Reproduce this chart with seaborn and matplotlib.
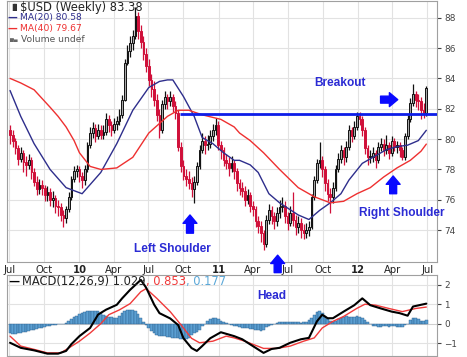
import pandas as pd
import numpy as np
import matplotlib.pyplot as plt
import seaborn as sns

# weekly bars, first week 2009-07-03
first_date = '2009-07-03'
first_open = 80.6
closes = [80.3, 79.9, 79.4, 78.7, 79.1, 78.5, 78.3, 78.6, 77.8, 77.2,
          76.7, 77.0, 76.8, 76.3, 76.5, 76.0, 76.1, 75.6, 75.5, 75.0,
          74.8, 75.4, 76.2, 77.4, 77.9, 78.0, 77.6, 77.3, 78.0, 79.6,
          80.4, 80.7, 80.2, 80.6, 80.3, 80.5, 81.3, 80.9, 80.6, 81.0,
          81.2, 81.6, 82.6, 85.0, 85.8, 86.3, 86.8, 88.1, 87.1, 86.4,
          85.6, 84.8, 83.9, 83.3, 82.6, 81.6, 80.6, 82.3, 82.8, 82.5,
          82.8, 82.2, 81.7, 79.5, 78.2, 77.6, 77.4, 77.1, 76.7, 77.2,
          78.2, 79.3, 79.9, 79.6, 79.7, 80.2, 80.6, 80.9, 79.6, 79.3,
          78.6, 78.4, 78.1, 78.4, 77.9, 77.1, 76.8, 76.6, 76.0, 76.3,
          75.6, 75.4, 74.6, 74.3, 73.8, 73.1, 74.7, 75.3, 74.9, 74.6,
          75.1, 75.5, 75.6, 74.9, 74.5, 75.1, 74.7, 74.2, 74.5, 74.0,
          73.8, 74.0, 74.2, 76.2, 77.3, 78.4, 78.6, 78.0, 77.1, 76.4,
          76.2, 76.8, 78.0, 78.7, 79.3, 78.8, 79.5, 80.6, 80.2, 80.8,
          81.5, 81.3, 80.6, 79.4, 78.8, 78.8, 79.1, 78.6, 79.5, 79.7,
          79.3, 79.6, 79.1, 79.9, 79.5, 79.6, 79.3, 78.8, 80.2, 81.3,
          82.4, 83.0, 82.6, 82.5, 81.9, 81.7, 83.38]
highs = [80.9, 80.6, 80.1, 79.6, 79.5, 79.3, 78.9, 79.0, 78.8, 78.1,
         77.6, 77.4, 77.3, 77.0, 76.9, 76.8, 76.6, 76.3, 76.0, 75.8,
         75.3, 75.6, 76.5, 77.6, 78.2, 78.3, 78.2, 77.8, 78.3, 79.8,
         80.8, 81.1, 81.0, 81.0, 80.9, 80.9, 81.7, 81.6, 81.2, 81.4,
         81.5, 82.0, 82.9, 85.3, 86.2, 86.8, 87.2, 88.7, 88.4, 87.5,
         86.8, 86.0, 85.3, 84.3, 83.8, 83.0, 82.0, 82.6, 83.2, 83.0,
         83.2, 83.0, 82.5, 81.9, 79.8, 78.6, 78.0, 77.9, 77.5, 77.6,
         78.5, 79.6, 80.4, 80.2, 80.3, 80.6, 81.0, 81.4, 81.2, 79.9,
         79.5, 79.0, 78.8, 78.9, 78.6, 78.1, 77.4, 77.2, 76.9, 76.7,
         76.5, 75.9, 75.6, 74.9, 74.6, 74.0, 75.0, 75.7, 75.6, 75.2,
         75.5, 76.0, 76.2, 75.9, 75.2, 75.6, 76.5, 75.0, 74.9, 74.8,
         74.4, 74.5, 74.6, 76.4, 77.6, 78.7, 79.8, 78.9, 78.2, 77.4,
         76.8, 77.2, 78.3, 79.1, 79.6, 79.5, 79.9, 80.9, 80.8, 81.2,
         81.8, 81.8, 81.5, 80.8, 79.6, 79.3, 79.5, 79.3, 79.8, 80.1,
         80.0, 80.3, 79.8, 80.2, 80.1, 79.9, 79.8, 79.5, 80.4, 81.6,
         82.7, 83.6, 83.2, 83.0, 82.8, 82.4, 83.5]
lows = [79.7, 79.5, 79.0, 78.3, 78.5, 77.8, 77.6, 78.0, 77.4, 76.9,
        76.3, 76.4, 76.3, 75.9, 75.9, 75.6, 75.5, 75.1, 74.9, 74.6,
        74.2, 74.5, 75.2, 76.0, 77.2, 77.5, 77.2, 76.8, 77.0, 77.8,
        79.4, 80.1, 79.8, 80.0, 80.0, 80.0, 80.3, 80.5, 80.2, 80.4,
        80.6, 80.9, 81.4, 82.5, 84.9, 85.4, 85.9, 86.6, 86.6, 86.0,
        85.2, 84.4, 83.5, 82.8, 82.2, 81.2, 80.1, 80.4, 82.0, 82.0,
        82.2, 81.8, 81.3, 79.2, 77.8, 77.3, 76.9, 76.7, 76.2, 75.8,
        77.0, 78.0, 79.1, 79.0, 79.3, 79.4, 79.9, 80.3, 79.3, 78.7,
        78.2, 78.0, 77.6, 77.8, 77.4, 76.6, 76.3, 76.2, 75.6, 75.7,
        75.2, 74.9, 74.2, 73.8, 73.2, 72.7, 72.9, 74.4, 74.4, 74.1,
        74.3, 74.8, 75.2, 74.5, 74.0, 74.3, 74.3, 73.7, 73.8, 73.5,
        73.4, 73.5, 73.6, 74.1, 76.0, 77.1, 78.1, 77.5, 76.6, 75.9,
        75.1, 75.8, 76.6, 77.8, 78.4, 78.3, 78.5, 79.3, 79.8, 80.0,
        80.6, 80.9, 80.2, 79.0, 78.3, 78.4, 78.5, 78.1, 78.4, 79.2,
        78.9, 79.0, 78.7, 78.9, 79.2, 79.1, 78.8, 78.6, 78.6, 80.0,
        81.1, 82.2, 82.1, 81.9, 81.3, 81.4, 81.5]

# moving averages (week number, value)
ma20_weeks = [0, 4, 9, 15, 21, 27, 34, 40, 46, 52, 56, 59, 61, 65, 69, 72, 76, 80, 84,
              86, 90, 93, 97, 101, 108, 112, 116, 120, 124, 127, 132, 136, 141, 145,
              149, 153, 156]
ma20_vals = [83.2, 81.5, 79.7, 78.0, 76.8, 76.4, 77.8, 79.7, 81.9, 83.4, 83.8, 83.9,
             83.9, 82.8, 81.5, 80.1, 79.7, 79.1, 78.6, 78.6, 78.3, 77.8, 76.4, 75.8,
             75.0, 74.7, 75.3, 75.8, 76.4, 77.3, 78.4, 78.8, 79.3, 79.5, 79.6, 79.9,
             80.58]
ma40_weeks = [0, 4, 9, 15, 18, 21, 24, 26, 30, 34, 40, 46, 52, 59, 63, 67, 72, 79, 84,
              86, 90, 95, 101, 108, 114, 120, 125, 130, 135, 140, 145, 150, 154, 156]
ma40_vals = [84.0, 83.7, 83.25, 82.1, 81.5, 80.8, 79.9, 79.1, 78.2, 78.0, 78.1, 78.8,
             80.4, 81.5, 81.9, 81.9, 81.6, 81.3, 80.8, 80.4, 79.9, 79.1, 78.0, 76.8,
             76.2, 75.8, 75.9, 76.4, 76.8, 77.5, 78.1, 78.6, 79.2, 79.67]

# MACD(12,26,9)
macd_weeks = [0, 4, 9, 14, 18, 21, 23, 26, 30, 33, 36, 40, 42, 45, 49, 51, 54, 56,
              60, 63, 65, 68, 70, 72, 75, 79, 82, 84, 87, 91, 95, 98, 101, 105, 109,
              112, 115, 117, 119, 121, 125, 129, 132, 135, 139, 143, 146, 149, 151,
              154, 156]
macd_vals = [-0.98, -1.24, -1.37, -1.54, -1.54, -1.4, -1.05, -0.64, -0.22, 0.47,
             0.72, 0.97, 1.3, 1.74, 2.25, 1.85, 0.98, 0.54, 0.27, -0.07, -0.75,
             -1.25, -1.4, -1.15, -0.75, -0.44, -0.56, -0.64, -0.8, -1.15, -1.5,
             -1.3, -1.24, -0.98, -0.8, -0.73, 0.12, 0.46, 0.28, 0.28, 0.62, 0.95,
             1.3, 0.95, 0.78, 0.62, 0.54, 0.41, 0.88, 0.97, 1.029]
signal_weeks = [0, 4, 9, 14, 19, 22, 26, 30, 34, 37, 41, 45, 49, 51, 55, 60, 64, 68,
                71, 76, 81, 84, 88, 95, 100, 105, 110, 114, 117, 121, 125, 130, 133,
                137, 142, 147, 152, 156]
signal_vals = [-0.64, -1.15, -1.32, -1.5, -1.5, -1.25, -0.9, -0.48, 0.0, 0.46, 0.71,
               1.03, 1.64, 1.8, 1.3, 0.62, -0.05, -0.75, -0.98, -0.9, -0.64, -0.73,
               -0.9, -1.27, -1.27, -1.15, -0.9, -0.73, -0.22, 0.12, 0.37, 0.79, 1.0,
               0.95, 0.78, 0.62, 0.78, 0.853]
hist_vals = [-0.5, -0.52, -0.52, -0.5, -0.47, -0.45, -0.42, -0.38, -0.35, -0.3,
             -0.27, -0.24, -0.2, -0.17, -0.14, -0.1, -0.07, -0.05, -0.03, -0.02,
             0.0, 0.05, 0.15, 0.25, 0.35, 0.42, 0.5, 0.55, 0.6, 0.63,
             0.63, 0.65, 0.66, 0.64, 0.55, 0.45, 0.38, 0.35, 0.32, 0.3,
             0.3, 0.4, 0.55, 0.63, 0.68, 0.72, 0.7, 0.65, 0.5, 0.3,
             0.1, -0.05, -0.2, -0.4, -0.5, -0.6, -0.62, -0.64, -0.65, -0.66,
             -0.68, -0.72, -0.74, -0.76, -0.78, -0.8, -0.78, -0.72, -0.6, -0.5,
             -0.45, -0.3, -0.1, 0.0, 0.15, 0.22, 0.29, 0.27, 0.22, 0.15,
             0.08, 0.03, 0.0, -0.05, -0.1, -0.14, -0.18, -0.2, -0.22, -0.24,
             -0.26, -0.28, -0.3, -0.33, -0.38, -0.3, -0.18, -0.1, -0.05, 0.0,
             0.05, 0.08, 0.1, 0.1, 0.1, 0.08, 0.07, 0.08, 0.07, 0.06,
             0.07, 0.1, 0.18, 0.3, 0.45, 0.6, 0.65, 0.55, 0.4, 0.22,
             0.12, 0.1, 0.15, 0.25, 0.3, 0.35, 0.37, 0.35, 0.33, 0.36,
             0.38, 0.35, 0.3, 0.2, 0.08, -0.02, -0.1, -0.13, -0.15, -0.15,
             -0.14, -0.13, -0.15, -0.14, -0.12, -0.15, -0.18, -0.15, -0.08, 0.0,
             0.2, 0.28, 0.3, 0.22, 0.16, 0.15, 0.177]

tick_labels = ['Jul', 'Oct', '10', 'Apr', 'Jul', 'Oct', '11', 'Apr', 'Jul', 'Oct', '12', 'Apr', 'Jul']
neckline = 81.65
neck_start = '2010-09-22'

sns.set_style('white')
plt.rcParams['font.family'] = ['DejaVu Sans']

dates = pd.date_range(first_date, periods=len(closes), freq='7D')
df = pd.DataFrame({'date': dates, 'close': closes, 'high': highs, 'low': lows})
df['open'] = df['close'].shift(1).fillna(first_open)
df['up'] = df['close'] >= df['open']
body_low = df[['open', 'close']].min(axis=1)
body_h = (df['close'] - df['open']).abs().clip(lower=0.07)
edge = np.where(df['up'], '#111111', '#d0103a')
face = np.where(df['up'], '#a8a8a8', '#d0103a')

W, H = 467, 357
fig = plt.figure(figsize=(W / 100, H / 100), dpi=100)
ax = fig.add_axes([7 / W, 1 - 262 / H, 430 / W, 261 / H])
ax2 = fig.add_axes([7 / W, 1 / H, 430 / W, 81 / H])

x_left, x_right = pd.Timestamp('2009-06-25'), pd.Timestamp('2012-07-27')
qticks = pd.date_range('2009-07-01', '2012-07-01', freq='QS')

# --- price panel ---
ax.vlines(df['date'], df['low'], df['high'], colors=edge, lw=0.9, zorder=3)
ax.bar(df['date'], body_h, bottom=body_low, width=4.6, color=face,
       edgecolor=edge, lw=0.7, zorder=4)
sns.lineplot(x=dates[ma20_weeks], y=ma20_vals, ax=ax, color='#2e2e8c', lw=1.0, zorder=5)
sns.lineplot(x=dates[ma40_weeks], y=ma40_vals, ax=ax, color='#ee3030', lw=1.0, zorder=5)
ax.hlines(neckline, pd.Timestamp(neck_start), x_right, color='#0d1de8', lw=2, zorder=6)

ax.set_xlim(x_left, x_right)
ax.set_ylim(71.9, 89.1)
ax.set_yticks(range(74, 89, 2))
ax.yaxis.tick_right()
ax.set_xticks(qticks)
ax.set_xticklabels(tick_labels)
for lab in ax.get_xticklabels():
    if lab.get_text().isdigit():
        lab.set_fontweight('bold')
ax.tick_params(axis='x', labelsize=7.2, length=0, pad=2.5, colors='#222222')
ax.tick_params(axis='y', labelsize=6.4, length=3, pad=2, colors='#444444')
ax.grid(True, color='#e2e2e2', lw=0.8)
ax.set_xlabel('')
ax.set_ylabel('')

# --- MACD panel ---
ax2.axhline(0, color='#cccccc', lw=0.6)
ax2.bar(dates, hist_vals, width=7, color='#5b9fd2', edgecolor='#2a5d8c', lw=0.3, zorder=3)
sns.lineplot(x=dates[signal_weeks], y=signal_vals, ax=ax2, color='#f03a3a', lw=1.0, zorder=4)
sns.lineplot(x=dates[macd_weeks], y=macd_vals, ax=ax2, color='black', lw=1.5, zorder=5)
ax2.set_xlim(x_left, x_right)
ax2.set_ylim(-1.66, 2.5)
ax2.set_yticks([-1, 0, 1, 2])
ax2.yaxis.tick_right()
ax2.set_xticks(qticks)
ax2.set_xticklabels([])
ax2.tick_params(axis='x', length=0)
ax2.tick_params(axis='y', labelsize=6.4, length=3, pad=2, colors='#444444')
ax2.grid(True, color='#e2e2e2', lw=0.8)
ax2.set_xlabel('')
ax2.set_ylabel('')

for a in (ax, ax2):
    for s in a.spines.values():
        s.set_color('#a0a0a0')
        s.set_linewidth(0.8)

# --- header texts ---
def fx(px):
    return px / W

def fy(py):
    return 1 - py / H

fig.text(fx(9), fy(7), '▐▌', fontsize=5, color='#333333', va='center')
fig.text(fx(20), fy(7), '$USD (Weekly) 83.38', fontsize=8.3, color='#222222', va='center')
fig.text(fx(7), fy(17.5), '—', fontsize=7, color='#2e2e8c', va='center', fontweight='bold')
fig.text(fx(20), fy(17.5), 'MA(20) 80.58', fontsize=6.6, color='#2e2e8c', va='center')
fig.text(fx(7), fy(29), '—', fontsize=7, color='#ee3030', va='center', fontweight='bold')
fig.text(fx(20), fy(29), 'MA(40) 79.67', fontsize=6.6, color='#ee3030', va='center')
fig.text(fx(10), fy(40), '▆▄', fontsize=3.5, color='#666666', va='center')
fig.text(fx(21), fy(40), 'Volume undef', fontsize=6.6, color='#555555', va='center')

fig.text(fx(8), fy(281.5), '—', fontsize=8, color='black', va='center', fontweight='bold')
t1 = fig.text(fx(22), fy(281.5), 'MACD(12,26,9) 1.029', fontsize=8.3, color='#222222', va='center')
t2 = ax2.annotate(', 0.853', xy=(1, 0), xycoords=t1, va='bottom', fontsize=8.3, color='#f03a3a')
ax2.annotate(', 0.177', xy=(1, 0), xycoords=t2, va='bottom', fontsize=8.3, color='#5ba8d8')

# --- pattern annotations ---
lab_font = dict(family=['Liberation Sans', 'DejaVu Sans'], fontsize=8.6,
                fontweight='bold', color='#2b2bd4', ha='center', va='center')
ax.text(pd.Timestamp('2011-11-16'), 83.7, 'Breakout', zorder=7, **lab_font)
ax.text(pd.Timestamp('2010-09-01'), 72.75, 'Left Shoulder', zorder=7, **lab_font)
ax.text(pd.Timestamp('2012-04-26'), 75.13, 'Right Shoulder', zorder=7, **lab_font)
ax2.text(pd.Timestamp('2011-05-21'), 1.44, 'Head', zorder=7, **lab_font)

arrow = dict(arrowstyle='simple,head_length=0.6,head_width=1.0,tail_width=0.5',
             color='#0a0aff', mutation_scale=10, shrinkA=0, shrinkB=0)
ax.annotate('', xy=(pd.Timestamp('2010-10-18'), 75.0),
            xytext=(pd.Timestamp('2010-10-18'), 73.8), arrowprops=arrow)
ax.annotate('', xy=(pd.Timestamp('2011-06-05'), 72.35),
            xytext=(pd.Timestamp('2011-06-05'), 71.2), arrowprops=arrow,
            annotation_clip=False)
ax.annotate('', xy=(pd.Timestamp('2012-04-03'), 77.57),
            xytext=(pd.Timestamp('2012-04-03'), 76.4), arrowprops=arrow)
ax.annotate('', xy=(pd.Timestamp('2012-04-15'), 82.6),
            xytext=(pd.Timestamp('2012-03-01'), 82.6), arrowprops=arrow)

fig.savefig('out.png', dpi=100)
plt.close()
